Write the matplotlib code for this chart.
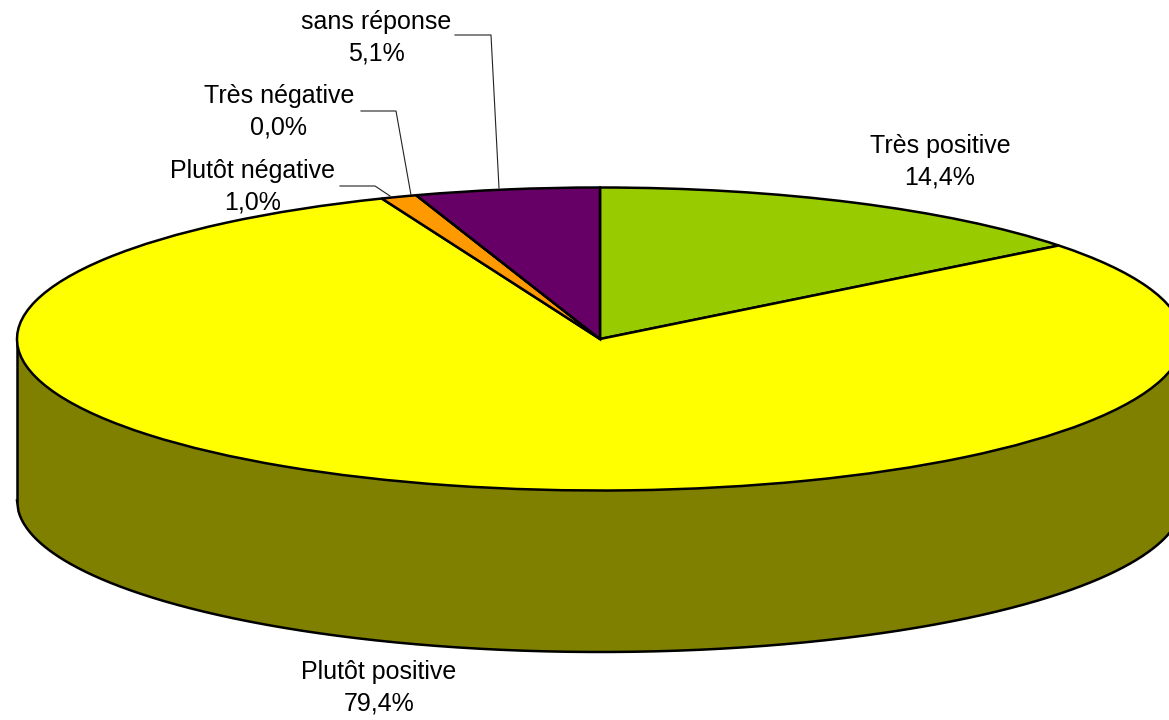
import numpy as np
import matplotlib
matplotlib.use('Agg')
import matplotlib.pyplot as plt

plt.rcParams['font.family'] = ['Liberation Sans', 'DejaVu Sans']

categories = ['Très positive', 'Plutôt positive', 'Plutôt négative', 'Très négative', 'sans réponse']
valeurs = [14.4, 79.4, 1.0, 0.0, 5.1]
etiquettes = ['14,4%', '79,4%', '1,0%', '0,0%', '5,1%']
couleurs = ['#99CC00', '#FFFF00', '#FF9900', '#FFCC00', '#660066']
couleurs_cote = ['#4D6600', '#808000', '#804D00', '#806600', '#330033']

# ellipse du camembert, en pixels de l'image
W, H = 1169, 720
cx, cy, a, b, prof = 600, 339, 583, 151.5, 161.5

fig = plt.figure(figsize=(W / 100, H / 100), dpi=100, facecolor='white')
ax = fig.add_axes([0, 0, 1, 1])

depth = prof / b
bord = dict(edgecolor='black', linewidth=1.8)

# paroi du bas
ax.pie(valeurs, colors=couleurs_cote, startangle=90, counterclock=False,
       center=(0, -depth), wedgeprops=dict(linewidth=0))
xs = np.linspace(-1, 1, 801)
ys = np.sqrt(1 - xs ** 2)
ax.fill_between(xs, -ys - depth, -ys, color='#808000', linewidth=0, zorder=2)
ax.plot(xs, -ys - depth, color='black', lw=1.8, zorder=3)
ax.plot([-1, -1], [0, -depth], color='black', lw=1.8, zorder=3)
ax.plot([1, 1], [0, -depth], color='black', lw=1.8, zorder=3)

# dessus
wedges, _ = ax.pie(valeurs, colors=couleurs, startangle=90, counterclock=False,
                   center=(0, 0), wedgeprops=bord)
for w in wedges:
    w.set_zorder(4)

ax.set_aspect('auto')
ax.set_xlim((0 - cx) / a, (W - cx) / a)
ax.set_ylim((cy - H) / b, cy / b)
ax.axis('off')


def to_data(px, py):
    return (px - cx) / a, (cy - py) / b


# traits de rappel, en pixels
rappels = [
    [(340, 186), (375, 186), (390, 196)],
    [(361, 111), (396, 111), (411, 195)],
    [(455, 35), (491, 35), (499, 188)],
]
for pts in rappels:
    dx, dy = to_data(np.array([p[0] for p in pts]), np.array([p[1] for p in pts]))
    ax.plot(dx, dy, color='#222222', lw=0.8, zorder=5)

positions = [(940, 162), (379, 688), (253, 187), (279, 112), (376, 38)]
for cat, txt, (px, py) in zip(categories, etiquettes, positions):
    x, y = to_data(px, py)
    ax.text(x, y, f'{cat}\n{txt}', ha='center', va='center', fontsize=18,
            linespacing=1.37, color='black', zorder=6)

fig.savefig('out.png', dpi=100)
